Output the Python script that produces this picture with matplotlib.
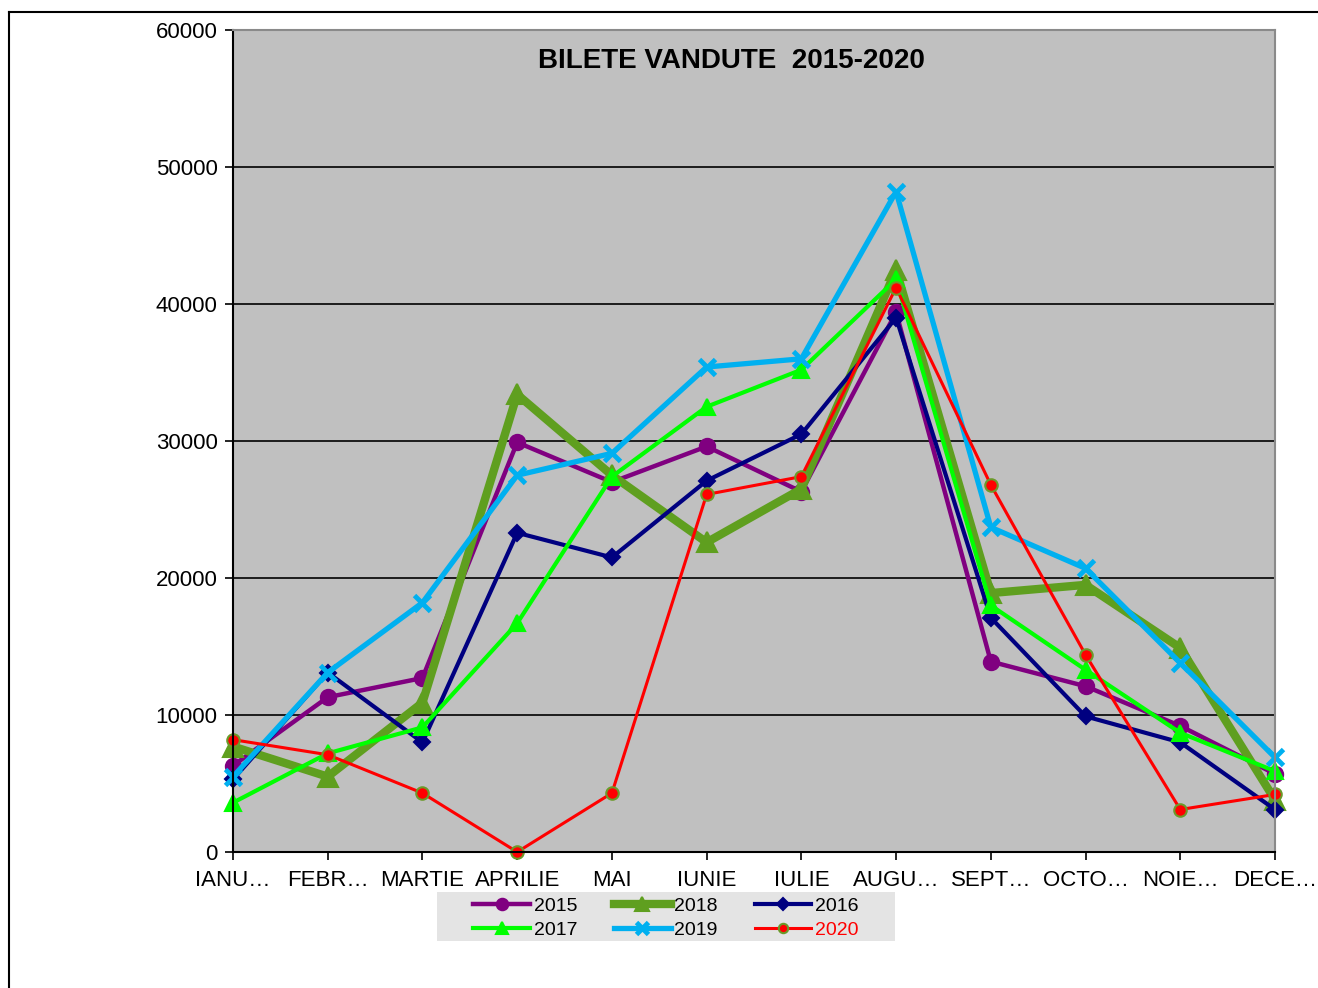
import matplotlib

matplotlib.use("Agg")
import matplotlib.pyplot as plt
from matplotlib.lines import Line2D
from matplotlib.patches import Rectangle

MONTHS = ["IANU…", "FEBR…", "MARTIE", "APRILIE", "MAI", "IUNIE",
          "IULIE", "AUGU…", "SEPT…", "OCTO…", "NOIE…", "DECE…"]

Y2015 = [6300, 11300, 12700, 29900, 27000, 29600, 26300, 39400, 13900, 12100, 9200, 5700]
Y2018 = [7700, 5500, 10900, 33400, 27500, 22600, 26500, 42500, 18900, 19500, 14900, 3800]
Y2016 = [5300, 13100, 8000, 23300, 21500, 27100, 30500, 39000, 17100, 9900, 8000, 3100]
Y2017 = [3600, 7200, 9100, 16700, 27400, 32500, 35200, 41800, 18000, 13300, 8700, 5900]
Y2019 = [5500, 13100, 18200, 27500, 29100, 35400, 36000, 48200, 23700, 20700, 13800, 6900]
Y2020 = [8200, 7100, 4300, 0, 4300, 26100, 27400, 41200, 26800, 14400, 3100, 4200]

# (label, values, colour, linewidth, marker, markersize, marker edge colour)
SERIES = [
    ("2015", Y2015, "#800080", 3.2, "o", 11, "#800080"),
    ("2018", Y2018, "#5F9F1F", 6.0, "^", 14, "#5F9F1F"),
    ("2016", Y2016, "#000080", 3.0, "D", 8, "#000080"),
    ("2017", Y2017, "#00FF00", 3.0, "^", 11, "#00FF00"),
    ("2019", Y2019, "#00B0F0", 3.8, "x", 11, "#00B0F0"),
    ("2020", Y2020, "#FF0000", 2.2, "o", 9, "#6B9A2A"),
]

W, H = 1318, 988

plt.rcParams["font.family"] = ["Liberation Sans", "DejaVu Sans"]

fig = plt.figure(figsize=(W / 100, H / 100), dpi=100)
ax = fig.add_axes([233 / W, 1 - 852 / H, (1275 - 233) / W, (852 - 30) / H])
ax.set_facecolor("#C0C0C0")

# outer frame of the sheet
fig.add_artist(Line2D([9 / W, 1.0], [1 - 12 / H] * 2, color="black", lw=1.5,
                      transform=fig.transFigure))
fig.add_artist(Line2D([9 / W] * 2, [0.0, 1 - 12 / H], color="black", lw=1.5,
                      transform=fig.transFigure))

xs = list(range(len(MONTHS)))
handles = {}
for label, vals, col, lw, mk, ms, mec in SERIES:
    mew = 3.5 if mk == "x" else 1.5
    (ln,) = ax.plot(xs, vals, color=col, lw=lw, marker=mk, markersize=ms,
                    markerfacecolor=col, markeredgecolor=mec, markeredgewidth=mew,
                    clip_on=False, label=label)
    handles[label] = ln

ax.set_xlim(0, len(MONTHS) - 1)
ax.set_ylim(0, 60000)
ax.set_yticks(range(0, 60001, 10000))
ax.set_xticks(xs)
ax.set_xticklabels(MONTHS)
ax.tick_params(axis="both", labelsize=16, length=6, width=1.2, direction="out")
ax.tick_params(axis="x", pad=7)
ax.tick_params(axis="y", pad=5)
ax.grid(axis="y", color="black", lw=1.2)
ax.set_axisbelow(True)
for side in ("left", "bottom"):
    ax.spines[side].set_linewidth(1.5)
    ax.spines[side].set_color("black")
for side in ("top", "right"):
    ax.spines[side].set_linewidth(1.5)
    ax.spines[side].set_color("#8A8A8A")

ax.text(0.478, 0.978, "BILETE VANDUTE  2015-2020", transform=ax.transAxes,
        ha="center", va="top", fontsize=20, fontweight="bold")

# legend sits on a wide light-gray panel below the x labels
fig.add_artist(Rectangle((437 / W, 1 - 941 / H), (895 - 437) / W, (941 - 892) / H,
                         transform=fig.transFigure, facecolor="#E4E4E4",
                         edgecolor="none", zorder=0))
order = ["2015", "2017", "2018", "2019", "2016", "2020"]
leg = fig.legend([handles[k] for k in order], order, ncol=3,
                 loc="center", bbox_to_anchor=(666 / W, 1 - 918 / H),
                 fontsize=14, frameon=False, handlelength=2.9, handletextpad=0.2,
                 columnspacing=1.9, labelspacing=0.32, borderpad=0.25,
                 borderaxespad=0, markerscale=0.75)
for txt in leg.get_texts():
    if txt.get_text() == "2020":
        txt.set_color("red")

fig.savefig("out.png", dpi=100)
